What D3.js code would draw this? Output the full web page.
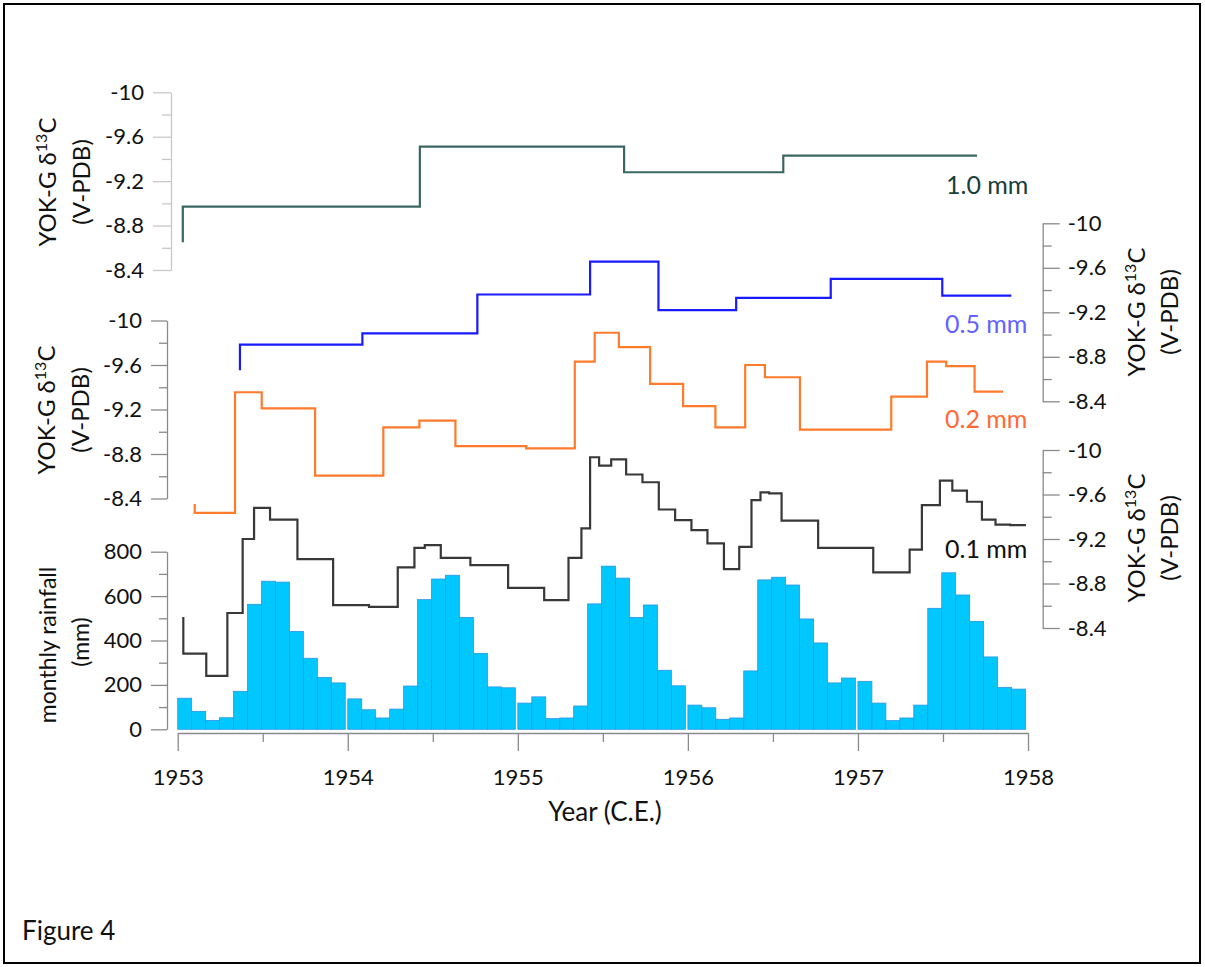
<!DOCTYPE html>
<html>
<head>
<meta charset="utf-8">
<script src="https://cdn.jsdelivr.net/npm/d3@7"></script>
<style>
  html, body { margin: 0; padding: 0; background: #fff; }
  svg text { font-family: Lato, "Open Sans", sans-serif; fill: #111; }
</style>
</head>
<body>
<svg id="fig" width="1205" height="967"></svg>
<script>
// Monthly rainfall (mm), Jan..Dec for each year
const rainYears = [1953, 1954, 1955, 1956, 1957];
const rain1953 = [140, 81, 40, 52, 171, 563, 667, 663, 441, 320, 234, 209];
const rain1954 = [137, 88, 51, 91, 195, 584, 677, 694, 504, 342, 191, 187];
const rain1955 = [118, 146, 48, 51, 105, 565, 735, 681, 504, 560, 266, 196];
const rain1956 = [109, 97, 45, 51, 263, 673, 685, 650, 497, 389, 209, 231];
const rain1957 = [216, 118, 39, 51, 109, 545, 705, 605, 486, 326, 189, 181];

// δ13C step series: start year of each step and its value
const years10 = [1953.03, 1953.03, 1954.424, 1955.625, 1956.561, 1957.70];
const d13C10  = [-8.65, -8.97, -9.51, -9.28, -9.43, -9.43];

const years05 = [1953.366, 1953.366, 1954.086, 1954.762, 1955.425, 1955.827, 1956.284, 1956.840, 1957.496, 1957.902];
const d13C05  = [-8.68, -8.91, -9.01, -9.36, -9.655, -9.22, -9.33, -9.50, -9.35, -9.35];

const years02 = [1953.100, 1953.100, 1953.337, 1953.494, 1953.808, 1954.209, 1954.421, 1954.633, 1955.049, 1955.335,
                 1955.452, 1955.594, 1955.778, 1955.972, 1956.162, 1956.337, 1956.453, 1956.659, 1957.196, 1957.406,
                 1957.519, 1957.686, 1957.853];
const d13C02  = [-8.35, -8.27, -9.355, -9.21, -8.605, -9.04, -9.10, -8.87, -8.85, -9.63,
                 -9.89, -9.76, -9.43, -9.23, -9.04, -9.60, -9.49, -9.02, -9.315, -9.63,
                 -9.59, -9.36, -9.36];

const years01 = [1953.033, 1953.033, 1953.168, 1953.292, 1953.382, 1953.449, 1953.543, 1953.704, 1953.914, 1954.125,
                 1954.294, 1954.392, 1954.453, 1954.547, 1954.721, 1954.943, 1955.155, 1955.298, 1955.374, 1955.425,
                 1955.478, 1955.549, 1955.637, 1955.733, 1955.829, 1955.925, 1956.021, 1956.115, 1956.212, 1956.302,
                 1956.374, 1956.427, 1956.478, 1956.551, 1956.766, 1957.090, 1957.304, 1957.376, 1957.482, 1957.555,
                 1957.641, 1957.729, 1957.809, 1957.896, 1957.988];
const d13C01  = [-8.50, -8.17, -7.97, -8.535, -9.20, -9.48, -9.375, -9.02, -8.605, -8.59,
                 -8.945, -9.12, -9.145, -9.03, -8.965, -8.76, -8.65, -9.03, -9.295, -9.935,
                 -9.86, -9.915, -9.78, -9.71, -9.465, -9.37, -9.28, -9.16, -8.93, -9.13,
                 -9.55, -9.62, -9.61, -9.365, -9.12, -8.90, -9.105, -9.505, -9.725, -9.635,
                 -9.535, -9.375, -9.33, -9.325, -9.325];

const isoMajor = [-10, -9.6, -9.2, -8.8, -8.4];
const isoMinor = [-9.8, -9.4, -9.0, -8.6];
const rainMajor = [0, 200, 400, 600, 800];
const rainMinor = [100, 300, 500, 700];
const yearTicks = [1953, 1954, 1955, 1956, 1957, 1958];
const halfYearTicks = [1953.5, 1954.5, 1955.5, 1956.5, 1957.5];

const svg = d3.select("#fig");

// frame
svg.append("rect").attr("x", 4).attr("y", 4).attr("width", 1196).attr("height", 959)
  .attr("fill", "none").attr("stroke", "#000").attr("stroke-width", 2);

// scales
const x = d3.scaleLinear().domain([1953, 1958]).range([177.7, 1028]);
const yTop  = d3.scaleLinear().domain([-8.4, -10]).range([270, 92.3]);
const yMid  = d3.scaleLinear().domain([-8.4, -10]).range([498.5, 320.5]);
const yR1   = d3.scaleLinear().domain([-8.4, -10]).range([401.3, 223.3]);
const yR2   = d3.scaleLinear().domain([-8.4, -10]).range([628, 450]);
const yRain = d3.scaleLinear().domain([0, 800]).range([729.3, 551.7]);

const fmtIso = d => String(d);

// axis with long labelled ticks and short unlabelled minor ticks
function drawAxis(makeAxis, tx, ty, major, minor, fmt, color, majorLen, minorLen, pad) {
  const g = svg.append("g").attr("transform", `translate(${tx},${ty})`);
  g.append("g").call(makeAxis().tickValues(minor).tickSize(minorLen).tickFormat(""))
    .call(s => s.select(".domain").remove());
  g.append("g").call(makeAxis().tickValues(major).tickSize(majorLen).tickSizeOuter(0)
      .tickPadding(pad).tickFormat(fmt));
  g.selectAll("line, path").attr("stroke", color).attr("stroke-width", 1.3);
  g.selectAll("text").attr("font-size", 22).attr("font-family", "Lato, sans-serif").attr("fill", "#111");
  return g;
}

drawAxis(() => d3.axisLeft(yTop), 171, 0, isoMajor, isoMinor, fmtIso, "#c8c8c8", 18, 9, 9);
drawAxis(() => d3.axisLeft(yMid), 167, 0, isoMajor, isoMinor, fmtIso, "#8a8a8a", 16, 8, 9);
drawAxis(() => d3.axisLeft(yRain), 167, 0, rainMajor, rainMinor, d3.format("d"), "#8a8a8a", 16, 8, 9);
drawAxis(() => d3.axisRight(yR1), 1042.7, 0, isoMajor, isoMinor, fmtIso, "#8a8a8a", 17, 9, 8);
drawAxis(() => d3.axisRight(yR2), 1042.7, 0, isoMajor, isoMinor, fmtIso, "#8a8a8a", 17, 9, 8);
drawAxis(() => d3.axisBottom(x), 0, 733, yearTicks, halfYearTicks, d3.format("d"), "#8a8a8a", 18, 9, 18);

// rainfall bars, one block of 12 per year
const rainByYear = [rain1953, rain1954, rain1955, rain1956, rain1957];
const bars = svg.append("g");
rainYears.forEach((yr, i) => {
  const x0 = x(yr), x1 = x(yr + 1) - 2.5;
  const band = d3.scaleBand().domain(d3.range(12)).range([x0, x1]).padding(0);
  bars.selectAll(null).data(rainByYear[i]).join("rect")
    .attr("x", (d, m) => band(m))
    .attr("width", band.bandwidth())
    .attr("y", d => yRain(d))
    .attr("height", d => yRain(0) - yRain(d))
    .attr("fill", "#00c8ff")
    .attr("stroke", "#2a94e8")
    .attr("stroke-width", 0.8);
});

// isotope step lines
function stepLine(xs, vs, yScale, color, width) {
  const pts = d3.zip(xs, vs);
  const line = d3.line().x(d => x(d[0])).y(d => yScale(d[1])).curve(d3.curveStepAfter);
  svg.append("path").datum(pts).attr("d", line)
    .attr("fill", "none").attr("stroke", color).attr("stroke-width", width)
    .attr("stroke-linejoin", "miter");
}
stepLine(years10, d13C10, yTop, "#3b6762", 2.2);
stepLine(years05, d13C05, yR1, "#1a1aff", 2.2);
stepLine(years02, d13C02, yMid, "#ff7b2c", 2.2);
stepLine(years01, d13C01, yR2, "#383838", 2.2);

// series labels
const seriesLabels = [
  { text: "1.0 mm", x: 946, y: 194, color: "#17403b" },
  { text: "0.5 mm", x: 945, y: 333, color: "#6262ff" },
  { text: "0.2 mm", x: 945, y: 427.5, color: "#ff6a35" },
  { text: "0.1 mm", x: 945, y: 558, color: "#111111" }
];
svg.append("g").selectAll("text").data(seriesLabels).join("text")
  .attr("x", d => d.x).attr("y", d => d.y)
  .attr("font-size", 25).style("fill", d => d.color)
  .text(d => d.text);

// rotated axis titles
function isoTitle(cy, baseline1, baseline2) {
  const t1 = svg.append("text").attr("transform", `translate(${baseline1},${cy}) rotate(-90)`)
    .attr("text-anchor", "middle").attr("font-size", 24);
  t1.append("tspan").text("YOK-G \u03B4");
  t1.append("tspan").attr("dy", -9).attr("font-size", 16).text("13");
  t1.append("tspan").attr("dy", 9).text("C");
  svg.append("text").attr("transform", `translate(${baseline2},${cy}) rotate(-90)`)
    .attr("text-anchor", "middle").attr("font-size", 24).text("(V-PDB)");
}
isoTitle(182, 56, 90);
isoTitle(410, 55, 89);
isoTitle(312, 1145, 1178);
isoTitle(538, 1145, 1178);

svg.append("text").attr("transform", "translate(56,645) rotate(-90)")
  .attr("text-anchor", "middle").attr("font-size", 23).text("monthly rainfall");
svg.append("text").attr("transform", "translate(89,642) rotate(-90)")
  .attr("text-anchor", "middle").attr("font-size", 23).text("(mm)");

svg.append("text").attr("x", 605).attr("y", 821).attr("text-anchor", "middle")
  .attr("font-size", 26).text("Year (C.E.)");

svg.append("text").attr("x", 22).attr("y", 940).attr("font-size", 26).text("Figure 4");
</script>
</body>
</html>
